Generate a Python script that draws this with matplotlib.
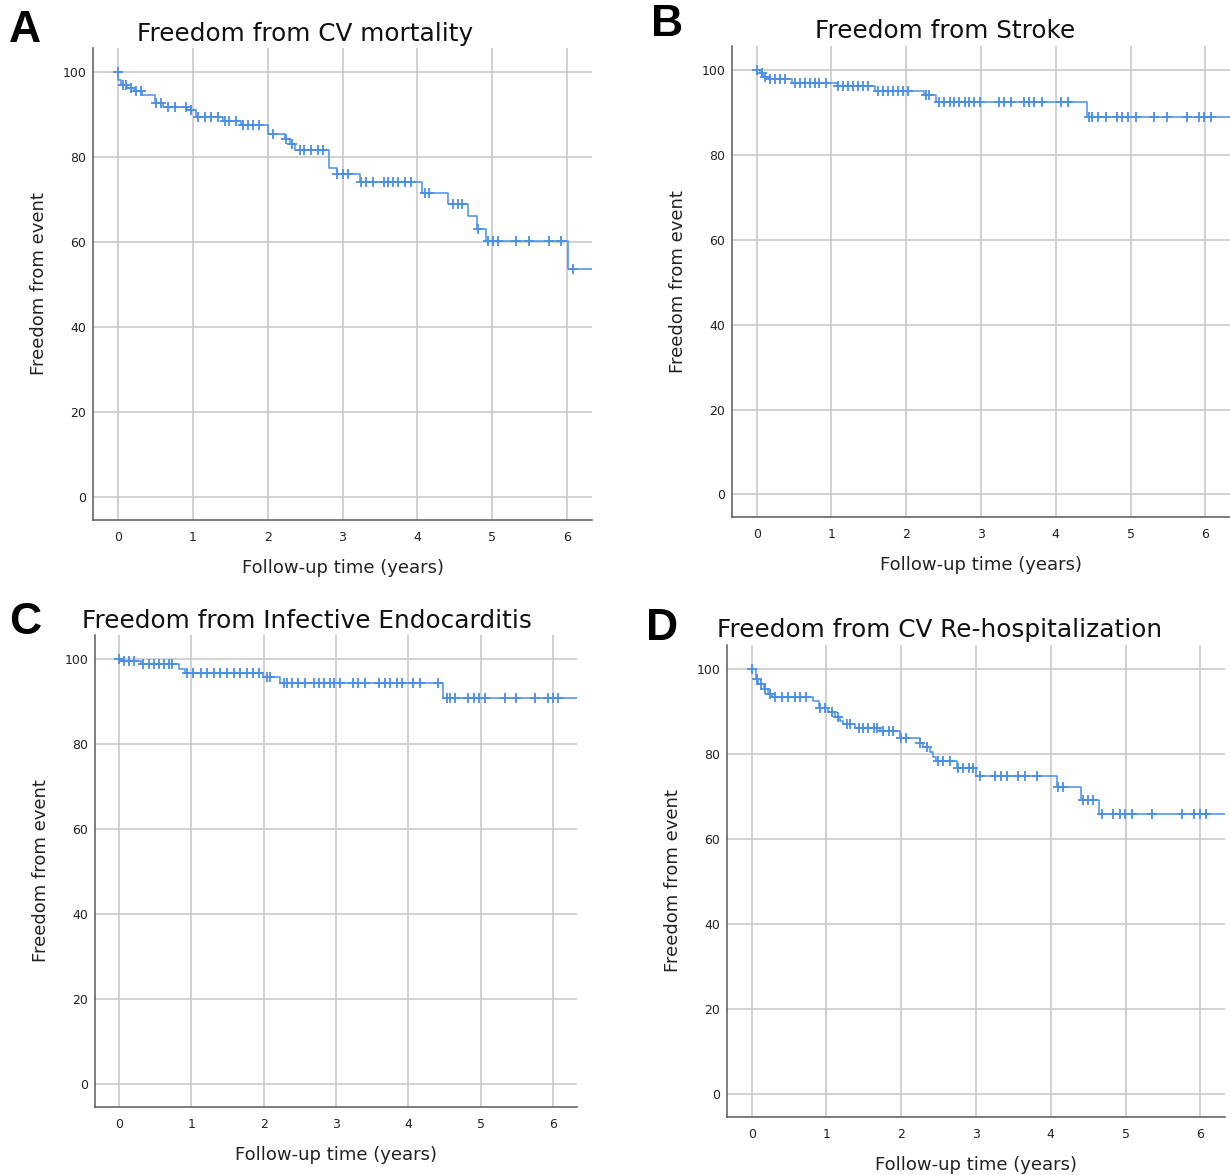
import numpy as np
import matplotlib
matplotlib.use('Agg')
import matplotlib.pyplot as plt

# 数据：每个面板的事件时间（年）、事件后生存率（%）、删失时间
cv_mort_times = [0.01, 0.04, 0.12, 0.22, 0.33, 0.50, 0.60, 0.92, 1.05, 1.40, 1.65, 2.00,
                 2.23, 2.30, 2.37, 2.82, 2.92, 3.23, 4.06, 4.41, 4.67, 4.79, 4.92, 6.01]
cv_mort_surv = [98.0, 97.0, 96.3, 95.5, 94.5, 92.6, 91.8, 91.0, 89.3, 88.4, 87.4, 85.4,
                84.3, 83.1, 81.6, 77.3, 76.1, 74.1, 71.5, 69.0, 66.1, 63.1, 60.2, 53.6]
cv_mort_censored = [0, 0.07, 0.11, 0.18, 0.245, 0.31, 0.51, 0.58, 0.67, 0.76, 0.91, 0.98,
                    1.07, 1.16, 1.25, 1.34, 1.43, 1.49, 1.58, 1.67, 1.74, 1.80, 1.89, 2.07,
                    2.25, 2.32, 2.43, 2.49, 2.58, 2.67, 2.74, 2.92, 3.01, 3.07, 3.25, 3.32,
                    3.41, 3.56, 3.61, 3.67, 3.74, 3.83, 3.92, 4.10, 4.16, 4.48, 4.54, 4.60,
                    4.81, 4.94, 5.01, 5.08, 5.32, 5.49, 5.75, 5.91, 6.07]

stroke_times = [0.04, 0.09, 0.16, 0.47, 1.07, 1.58, 2.24, 2.40, 4.42]
stroke_surv = [99.3, 98.4, 97.8, 97.0, 96.2, 95.1, 94.1, 92.3, 88.8]
stroke_censored = [0, 0.07, 0.11, 0.18, 0.24, 0.31, 0.38, 0.51, 0.58, 0.64, 0.71, 0.78,
                   0.84, 0.93, 1.09, 1.16, 1.22, 1.29, 1.36, 1.42, 1.49, 1.62, 1.69, 1.76,
                   1.82, 1.89, 1.96, 2.02, 2.27, 2.31, 2.44, 2.51, 2.58, 2.64, 2.71, 2.78,
                   2.84, 2.91, 2.98, 3.24, 3.31, 3.40, 3.58, 3.64, 3.71, 3.82, 4.07, 4.16,
                   4.44, 4.49, 4.56, 4.67, 4.82, 4.89, 4.96, 5.07, 5.31, 5.49, 5.76, 5.91,
                   5.98, 6.07]

endo_times = [0.02, 0.30, 0.83, 0.92, 1.99, 2.23, 4.48]
endo_surv = [99.5, 98.8, 97.6, 96.7, 95.8, 94.3, 90.7]
endo_censored = [0, 0.07, 0.14, 0.21, 0.34, 0.41, 0.48, 0.55, 0.62, 0.69, 0.74, 0.94,
                 1.03, 1.13, 1.22, 1.31, 1.40, 1.49, 1.59, 1.68, 1.77, 1.86, 1.93, 2.05,
                 2.09, 2.28, 2.32, 2.39, 2.48, 2.57, 2.69, 2.76, 2.83, 2.92, 2.97, 3.06,
                 3.24, 3.31, 3.40, 3.59, 3.68, 3.75, 3.84, 3.91, 4.07, 4.16, 4.41, 4.53,
                 4.57, 4.64, 4.83, 4.90, 4.97, 5.06, 5.33, 5.49, 5.75, 5.93, 6.00, 6.07]

rehosp_times = [0.06, 0.09, 0.16, 0.22, 0.27, 0.82, 0.90, 1.02, 1.11, 1.18, 1.22, 1.38,
                1.71, 1.98, 2.25, 2.29, 2.38, 2.43, 2.47, 2.74, 3.00, 4.08, 4.41, 4.65]
rehosp_surv = [97.6, 96.5, 95.3, 94.1, 93.3, 92.5, 90.8, 89.8, 88.6, 87.8, 87.1, 86.1,
               85.3, 83.8, 82.5, 81.6, 80.4, 79.4, 78.4, 76.7, 74.9, 72.2, 69.2, 65.9]
rehosp_censored = [0, 0.07, 0.13, 0.18, 0.245, 0.31, 0.40, 0.49, 0.58, 0.65, 0.73, 0.91,
                   0.98, 1.07, 1.16, 1.27, 1.31, 1.43, 1.49, 1.56, 1.63, 1.67, 1.76, 1.83,
                   1.89, 2.00, 2.07, 2.25, 2.34, 2.49, 2.56, 2.65, 2.76, 2.83, 2.90, 2.96,
                   3.05, 3.25, 3.34, 3.41, 3.56, 3.65, 3.81, 4.10, 4.16, 4.43, 4.50, 4.57,
                   4.68, 4.83, 4.92, 4.99, 5.08, 5.35, 5.75, 5.92, 5.99, 6.08]

last_followup = 6.40
x_ticks = [0, 1, 2, 3, 4, 5, 6]
y_ticks = [0, 20, 40, 60, 80, 100]

LINE_COLOR = '#4a8fe6'
GRID_COLOR = '#c9c9c9'
SPINE_COLOR = '#5a5a5a'

plt.rcParams['font.family'] = ['DejaVu Sans']

fig = plt.figure(figsize=(12.3, 11.75), dpi=100)
W, H = 1230, 1175


def px_axes(left, top, right, bottom):
    """像素坐标转换为figure坐标"""
    return [left / W, 1 - bottom / H, (right - left) / W, (bottom - top) / H]


def km_plot(ax, times, surv, censored):
    t = np.concatenate([[0], times, [last_followup]])
    s = np.concatenate([[100], surv, [surv[-1]]])
    ax.step(t, s, where='post', color=LINE_COLOR, lw=1.1, zorder=3)
    # 删失点的纵坐标取阶梯函数在该时刻的值
    idx = np.searchsorted(t, censored, side='right') - 1
    ax.plot(censored, s[idx], linestyle='none', marker='+', markersize=7.5,
            mew=1.3, color=LINE_COLOR, zorder=4)

    ax.set_xlim(-0.33, 6.33)
    ax.set_ylim(-5.3, 105.6)
    ax.set_xticks(x_ticks)
    ax.set_yticks(y_ticks)
    ax.grid(True, color=GRID_COLOR, lw=1.2)
    ax.set_axisbelow(True)
    ax.tick_params(length=0, labelsize=9, colors='#222222')
    ax.tick_params(axis='x', pad=8)
    ax.tick_params(axis='y', pad=5)
    for side in ['top', 'right']:
        ax.spines[side].set_visible(False)
    for side in ['left', 'bottom']:
        ax.spines[side].set_color(SPINE_COLOR)
        ax.spines[side].set_linewidth(1.1)
    ax.set_xlabel('Follow-up time (years)', fontsize=13, labelpad=11, color='#222222')
    ax.set_ylabel('Freedom from event', fontsize=13, labelpad=10, color='#222222')


panels = [
    (px_axes(93, 48, 592, 520), cv_mort_times, cv_mort_surv, cv_mort_censored,
     'Freedom from CV mortality', (305, 34), 'A', (25, 30)),
    (px_axes(732, 46, 1230, 517), stroke_times, stroke_surv, stroke_censored,
     'Freedom from Stroke', (945, 31), 'B', (667, 24)),
    (px_axes(95, 635, 577, 1107), endo_times, endo_surv, endo_censored,
     'Freedom from Infective Endocarditis', (307, 621), 'C', (25, 622)),
    (px_axes(727, 645, 1225, 1117), rehosp_times, rehosp_surv, rehosp_censored,
     'Freedom from CV Re-hospitalization', (940, 630), 'D', (662, 628)),
]

for rect, times, surv, cens, title, tpos, letter, lpos in panels:
    ax = fig.add_axes(rect)
    km_plot(ax, times, surv, cens)
    fig.text(tpos[0] / W, 1 - tpos[1] / H, title, fontsize=17.8,
             ha='center', va='center', color='#111111')
    fig.text(lpos[0] / W, 1 - lpos[1] / H, letter, fontsize=32, fontweight='bold',
             family='Liberation Sans', ha='center', va='center', color='black')

fig.savefig('out.png', dpi=100)
